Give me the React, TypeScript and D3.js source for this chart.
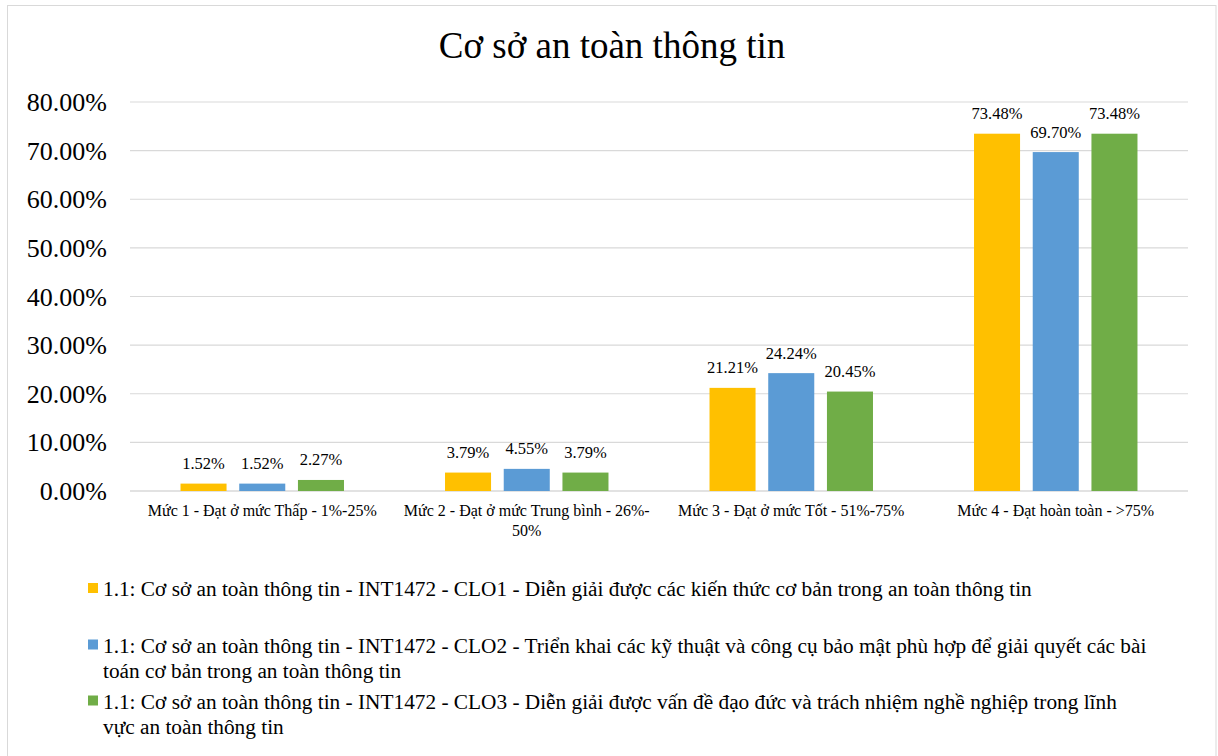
import React from "react";
import * as d3 from "d3";

const TITLE = "Cơ sở an toàn thông tin";
const categories = [
  "Mức 1 - Đạt ở mức Thấp - 1%-25%",
  "Mức 2 - Đạt ở mức Trung bình - 26%-|50%",
  "Mức 3 - Đạt ở mức Tốt - 51%-75%",
  "Mức 4 - Đạt hoàn toàn - >75%",
];
const seriesKeys = ["CLO1", "CLO2", "CLO3"];
const clo1 = [1.52, 3.79, 21.21, 73.48];
const clo2 = [1.52, 4.55, 24.24, 69.7];
const clo3 = [2.27, 3.79, 20.45, 73.48];
const seriesValues = [clo1, clo2, clo3];
const seriesColors = ["#FFC000", "#5B9BD5", "#70AD47"];
const legendLines = [
  ["1.1: Cơ sở an toàn thông tin - INT1472 - CLO1 - Diễn giải được các kiến thức cơ bản trong an toàn thông tin"],
  [
    "1.1: Cơ sở an toàn thông tin - INT1472 - CLO2 - Triển khai các kỹ thuật và công cụ bảo mật phù hợp để giải quyết các bài",
    "toán cơ bản trong an toàn thông tin",
  ],
  [
    "1.1: Cơ sở an toàn thông tin - INT1472 - CLO3 - Diễn giải được vấn đề đạo đức và trách nhiệm nghề nghiệp trong lĩnh",
    "vực an toàn thông tin",
  ],
];
const yTicks = [0, 10, 20, 30, 40, 50, 60, 70, 80];

const W = 1218;
const H = 756;
const FONT = "Liberation Serif, DejaVu Serif, serif";

export default function App() {
  const left = 130;
  const right = 1188;
  const top = 102;
  const bottom = 491;

  const x0 = d3
    .scaleBand<number>()
    .domain(d3.range(categories.length))
    .range([left, right])
    .paddingInner(0.382)
    .paddingOuter(0.191);
  const x1 = d3
    .scaleBand<number>()
    .domain(d3.range(seriesKeys.length))
    .range([0, x0.bandwidth()])
    .paddingInner(0.216)
    .paddingOuter(0);
  const y = d3.scaleLinear().domain([0, 80]).range([bottom, top]);

  const legendY = [596, 652.5, 708.5];
  const ts = { fontFamily: FONT };

  return (
    <svg
      width={W}
      height={H}
      style={{ position: "absolute", left: 0, top: 0, background: "#fff", fontFamily: FONT }}
    >
      <rect x={7.5} y={5.5} width={1208.5} height={760} fill="#fff" stroke="#d9d9d9" strokeWidth={1} />
      <text x={612} y={57.5} textAnchor="middle" fontSize={37} fill="#000" style={ts}>
        {TITLE}
      </text>
      {yTicks.map((t) => (
        <g key={t}>
          <line x1={left} x2={right} y1={y(t)} y2={y(t)} stroke="#d9d9d9" strokeWidth={t === 0 ? 1.5 : 1.2} />
          <text x={107} y={y(t) + 9} textAnchor="end" fontSize={26} fill="#000" style={ts}>
            {t.toFixed(2) + "%"}
          </text>
        </g>
      ))}
      {categories.map((c, ci) => (
        <g key={c}>
          {seriesValues.map((vals, si) => {
            const bx = (x0(ci) as number) + (x1(si) as number);
            const by = y(vals[ci]);
            return (
              <g key={si}>
                <rect x={bx} y={by} width={x1.bandwidth()} height={bottom - by} fill={seriesColors[si]} />
                <text
                  x={bx + x1.bandwidth() / 2}
                  y={by - 14.5}
                  textAnchor="middle"
                  fontSize={16.5}
                  fill="#000"
                  style={ts}
                >
                  {vals[ci].toFixed(2) + "%"}
                </text>
              </g>
            );
          })}
          {c.split("|").map((ln, li) => (
            <text
              key={li}
              x={(x0(ci) as number) + x0.bandwidth() / 2}
              y={515.5 + li * 20}
              textAnchor="middle"
              fontSize={16}
              fill="#000"
              style={ts}
            >
              {ln}
            </text>
          ))}
        </g>
      ))}
      {legendLines.map((lines, si) => (
        <g key={si}>
          <rect x={88} y={legendY[si] - 13} width={10} height={10} fill={seriesColors[si]} />
          {lines.map((ln, li) => (
            <text key={li} x={103} y={legendY[si] + li * 25.3} fontSize={21.3} fill="#000" style={ts}>
              {ln}
            </text>
          ))}
        </g>
      ))}
    </svg>
  );
}
